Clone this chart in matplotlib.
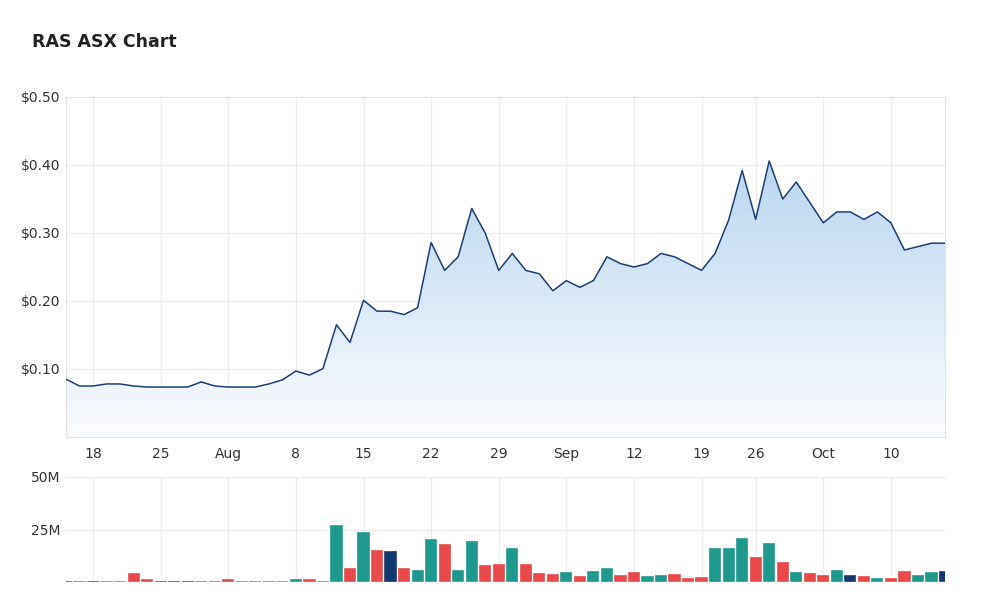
import numpy as np
import matplotlib.pyplot as plt
import matplotlib.colors as mcolors
from matplotlib.patches import Polygon

# trading days 14 Jul 2022 -> 14 Oct 2022 (index), tick positions by day index
tick_pos = [2, 7, 12, 17, 22, 27, 32, 37, 42, 47, 51, 56, 61]
tick_labels = ["18", "25", "Aug", "8", "15", "22", "29", "Sep", "12", "19", "26", "Oct", "10"]

price = [0.085, 0.075, 0.075, 0.078, 0.078, 0.075, 0.0735, 0.0735, 0.0735, 0.0735,
         0.081, 0.075, 0.0735, 0.0735, 0.0735, 0.078, 0.084, 0.097, 0.091, 0.1005,
         0.165, 0.139, 0.201, 0.185, 0.185, 0.18, 0.19, 0.286, 0.245, 0.265,
         0.336, 0.30, 0.245, 0.27, 0.245, 0.24, 0.215, 0.23, 0.22, 0.23,
         0.265, 0.255, 0.25, 0.255, 0.27, 0.265, 0.255, 0.245, 0.27, 0.319,
         0.392, 0.32, 0.406, 0.35, 0.375, 0.345, 0.315, 0.331, 0.331, 0.32,
         0.331, 0.315, 0.275, 0.28, 0.285, 0.285]

volume_m = [0.7, 0.7, 0.5, 0.5, 0.7, 4.4, 1.3, 0.5, 0.5, 0.7,
            0.7, 0.7, 1.3, 0.7, 0.7, 0.7, 0.7, 1.3, 1.3, 0.7,
            27.0, 6.9, 24.0, 15.4, 14.9, 6.9, 5.8, 20.6, 18.1, 5.8,
            19.5, 7.9, 8.8, 16.0, 8.8, 4.4, 3.9, 4.9, 3.0, 5.3,
            6.9, 3.5, 4.9, 3.0, 3.5, 3.9, 1.9, 2.4, 16.0, 16.0,
            21.0, 12.1, 18.6, 9.4, 4.9, 4.4, 3.5, 5.8, 3.5, 3.0,
            1.9, 1.9, 5.3, 3.5, 4.9, 5.3]

direction = ["flat", "down", "flat", "up", "down", "down", "down", "flat", "flat", "flat",
             "up", "down", "down", "up", "down", "up", "up", "up", "down", "up",
             "up", "down", "up", "down", "flat", "down", "up", "up", "down", "up",
             "up", "down", "down", "up", "down", "down", "down", "up", "down", "up",
             "up", "down", "down", "up", "up", "down", "down", "down", "up", "up",
             "up", "down", "up", "down", "up", "down", "down", "up", "flat", "down",
             "up", "down", "down", "up", "up", "flat"]

colmap = {"up": "#1f998e", "down": "#e8494a", "flat": "#133a6e"}
grid_c = "#ececec"
text_c = "#333333"

x = np.arange(len(price))
fig = plt.figure(figsize=(10, 6.1), dpi=100)
ax = fig.add_axes([0.066, 1 - 437 / 610, 0.879, 340 / 610])
axv = fig.add_axes([0.066, 1 - 582 / 610, 0.879, 105 / 610])

fig.text(0.032, 1 - 42 / 610, "RAS ASX Chart", fontsize=12.5, fontweight="bold",
         color="#222222", va="center")

# price line with gradient fill
ax.set_xlim(0, len(price) - 1)
ax.set_ylim(0, 0.5)
grad = np.linspace(0, 1, 256).reshape(-1, 1)
cmap = mcolors.LinearSegmentedColormap.from_list("g", ["#fbfcfe", "#b9d6f0"])
im = ax.imshow(grad, aspect="auto", cmap=cmap, origin="lower",
               extent=[0, len(price) - 1, 0, max(price)], zorder=1)
poly = Polygon(np.column_stack([np.r_[x, x[-1], x[0]], np.r_[price, 0, 0]]),
               closed=True, transform=ax.transData, facecolor="none", edgecolor="none")
ax.add_patch(poly)
im.set_clip_path(poly)
ax.plot(x, price, color="#1c3f72", lw=1.1, zorder=3)

ax.set_yticks([0.1, 0.2, 0.3, 0.4, 0.5])
ax.set_yticklabels(["$0.10", "$0.20", "$0.30", "$0.40", "$0.50"])
ax.set_xticks(tick_pos)
ax.set_xticklabels(tick_labels)
ax.grid(True, color=grid_c, lw=0.8, zorder=0)
ax.set_axisbelow(True)
ax.tick_params(length=0, labelsize=10, colors=text_c, pad=7)
ax.tick_params(axis="y", pad=4)
for s in ax.spines.values():
    s.set_color("#e4e4e4")
    s.set_linewidth(0.8)

# volume bars
axv.bar(x, volume_m, width=0.9, color=[colmap[d] for d in direction],
        edgecolor="white", linewidth=0.25, zorder=2)
axv.set_xlim(0, len(price) - 1)
axv.set_ylim(0, 50)
axv.set_yticks([25, 50])
axv.set_yticklabels(["25M", "50M"])
axv.set_xticks(tick_pos)
axv.set_xticklabels([])
axv.grid(True, color=grid_c, lw=0.8, zorder=0)
axv.set_axisbelow(True)
axv.tick_params(length=0, labelsize=10, colors=text_c, pad=4)
for s in axv.spines.values():
    s.set_visible(False)
axv.spines["top"].set_visible(True)
axv.spines["top"].set_color(grid_c)

fig.savefig("out.png", dpi=100)
